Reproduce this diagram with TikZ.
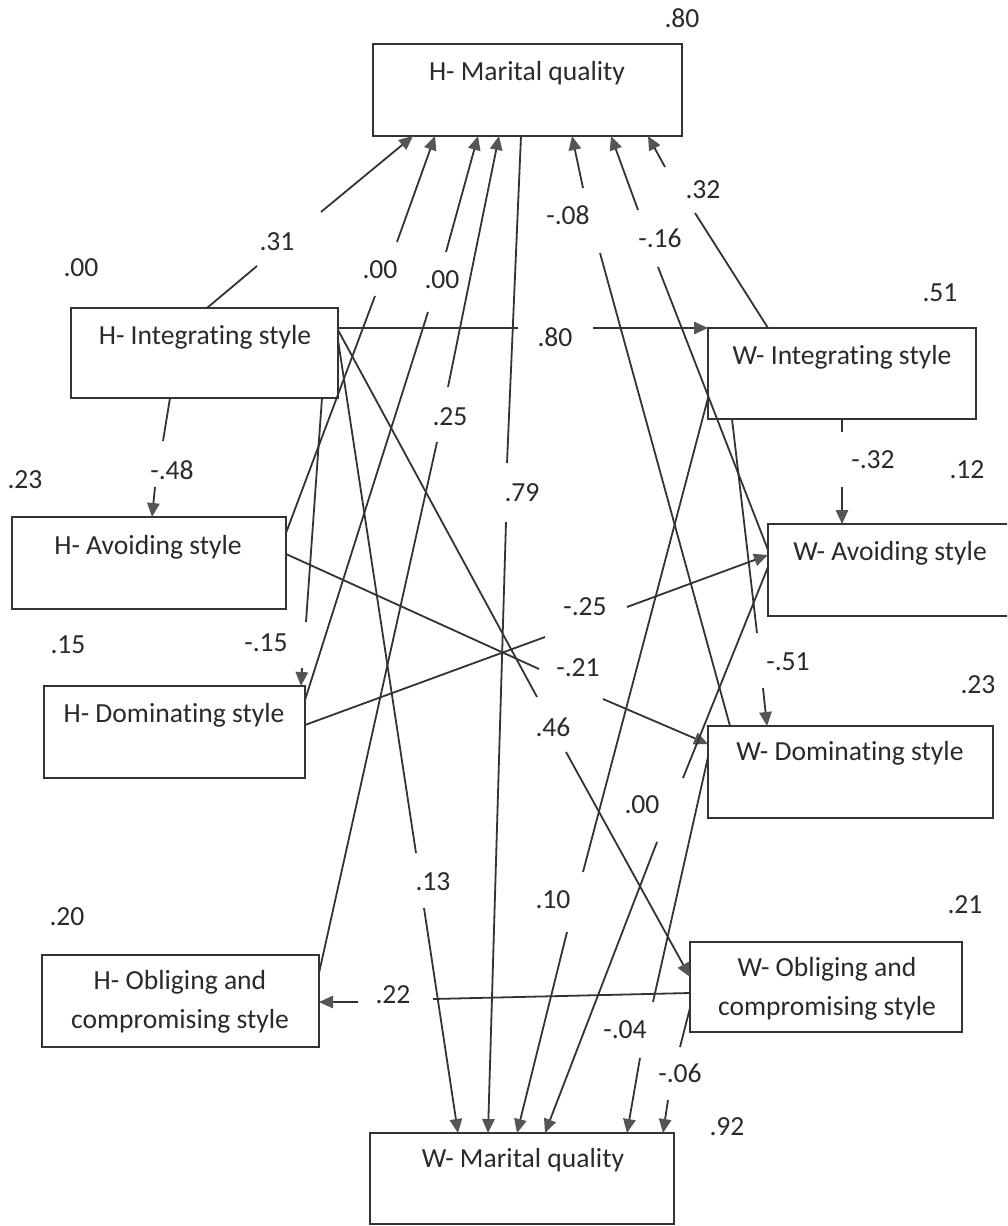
\documentclass[tikz,border=0pt]{standalone}
\usepackage{fontspec}
\setmainfont{Carlito}[Ligatures={CommonOff,ContextualOff,RareOff},Contextuals=AlternateOff]
\usetikzlibrary{arrows.meta}
\definecolor{ink}{HTML}{2A2A2A}
\definecolor{wire}{HTML}{333333}
\definecolor{tipgray}{HTML}{555555}

\begin{document}
\begin{tikzpicture}[x=0.5pt,y=-0.5pt,
  box/.style={draw=wire, line width=1.1pt, inner sep=0pt, outer sep=0pt},
  boxtext/.style={text=ink, font=\fontsize{13.8pt}{19.5pt}\selectfont, align=center, inner sep=0pt},
  coef/.style={text=ink, font=\fontsize{13.8pt}{16pt}\selectfont, inner sep=0pt},
  link/.style={draw=wire, line width=0.9pt},
  arrowlink/.style={link, -{Triangle[length=7pt,width=6.2pt,color=tipgray]}},
]
\path[use as bounding box] (0,0) rectangle (1007,1226);
\clip (0,0) rectangle (1007,1226);
\fill[white] (0,0) rectangle (1007,1226);

% ---------- variables ----------
\node[box, minimum width=154.5pt, minimum height=46pt]   (HMQ) at (527.5,90)   {};
\node[box, minimum width=133.5pt, minimum height=45pt]   (HI)  at (204.5,353)  {};
\node[box, minimum width=137pt,   minimum height=46pt]   (HA)  at (149,563)    {};
\node[box, minimum width=130.5pt, minimum height=46pt]   (HD)  at (174.5,732)  {};
\node[box, minimum width=138.5pt, minimum height=46pt]   (HO)  at (180.5,1001) {};
\node[box, minimum width=152pt,   minimum height=45.5pt] (WMQ) at (522,1178.5) {};
\node[box, minimum width=134pt,   minimum height=45.5pt] (WI)  at (842,373.5)  {};
\node[box, minimum width=122pt,   minimum height=46pt]   (WA)  at (890,570)    {};
\node[box, minimum width=142.5pt, minimum height=46pt]   (WD)  at (850.5,772)  {};
\node[box, minimum width=136pt,   minimum height=45pt]   (WO)  at (826,987)    {};

\node[boxtext] (HMQ-t) at (527,73)    {H- Marital quality};
\node[boxtext] (HI-t)  at (205,337)   {H- Integrating style};
\node[boxtext] (HA-t)  at (148,547)   {H- Avoiding style};
\node[boxtext] (HD-t)  at (174,715)   {H- Dominating style};
\node[boxtext] (HO-t)  at (180,1002)  {H- Obliging and\\compromising style};
\node[boxtext] (WMQ-t) at (523,1160)  {W- Marital quality};
\node[boxtext] (WI-t)  at (842,357)   {W- Integrating style};
\node[boxtext] (WA-t)  at (890,553)   {W- Avoiding style};
\node[boxtext] (WD-t)  at (850,753)   {W- Dominating style};
\node[boxtext] (WO-t)  at (827,988.5) {W- Obliging and\\compromising style};

% ---------- explained variance ----------
\node[coef] (r-hmq) at (682,18)   {.80};
\node[coef] (r-hi)  at (81,268)   {.00};
\node[coef] (r-wi)  at (940,293)  {.51};
\node[coef] (r-ha)  at (25,480)   {.23};
\node[coef] (r-wa)  at (967,470)  {.12};
\node[coef] (r-hd)  at (68,645)   {.15};
\node[coef] (r-wd)  at (978,685)  {.23};
\node[coef] (r-ho)  at (67,917)   {.20};
\node[coef] (r-wo)  at (965,905)  {.21};
\node[coef] (r-wmq) at (727,1127) {.92};

% ---------- break points of the paths around their coefficients ----------
\coordinate (g1a)  at (257,266);  \coordinate (g1b)  at (321,212);
\coordinate (g2a)  at (518,328);  \coordinate (g2b)  at (593,328);
\coordinate (g3a)  at (163,441);  \coordinate (g3b)  at (155,487);
\coordinate (g4a)  at (306,622);  \coordinate (g4b)  at (302,668);
\coordinate (g5a)  at (416,853);  \coordinate (g5b)  at (424,908);
\coordinate (g6a)  at (537,697);  \coordinate (g6b)  at (566,752);
\coordinate (g7a)  at (375,296);  \coordinate (g7b)  at (397,242);
\coordinate (g8a)  at (428,312);  \coordinate (g8b)  at (446,252);
\coordinate (g9a)  at (437,442);  \coordinate (g9b)  at (448,387);
\coordinate (g10a) at (507,463);  \coordinate (g10b) at (506,522);
\coordinate (g11a) at (539,669);  \coordinate (g11b) at (603,699);
\coordinate (g12a) at (545,637);  \coordinate (g12b) at (627,607);
\coordinate (g13a) at (600,253);  \coordinate (g13b) at (583,188);
\coordinate (g14a) at (658,267);  \coordinate (g14b) at (638,210);
\coordinate (g15a) at (695,213);  \coordinate (g15b) at (665,167);
\coordinate (g16a) at (842,432);  \coordinate (g16b) at (842,487);
\coordinate (g17a) at (757,633);  \coordinate (g17b) at (763,688);
\coordinate (g18a) at (583,872);  \coordinate (g18b) at (567,932);
\coordinate (g19a) at (683,778);  \coordinate (g19b) at (657,842);
\coordinate (g20a) at (653,1002); \coordinate (g20b) at (640,1058);
\coordinate (g21a) at (680,1047); \coordinate (g21b) at (668,1100);
\coordinate (g22a) at (433,999);  \coordinate (g22b) at (358,1002);

% ---------- paths ----------
% husband styles -> husband marital quality
\draw[arrowlink] (207,0 |- HI.north) -- (g1a) (g1b) -- (413,0 |- HMQ.south);
\node[coef] (c1) at (277,242) {.31};
\draw[arrowlink] (HA.east |- 0,533) -- (g7a) (g7b) -- (435,0 |- HMQ.south);
\node[coef] (c7) at (380,270) {.00};
\draw[arrowlink] (HD.east |- 0,700) -- (g8a) (g8b) -- (478,0 |- HMQ.south);
\node[coef] (c8) at (442,280) {.00};
\draw[arrowlink] (HO.east |- 0,973) -- (g9a) (g9b) -- (499,0 |- HMQ.south);
\node[coef] (c9) at (450,417) {.25};

% wife styles -> husband marital quality
\draw[arrowlink] (730,0 |- WD.north) -- (g13a) (g13b) -- (572,0 |- HMQ.south);
\node[coef] (c13) at (568,215) {-.08};
\draw[arrowlink] (WA.west |- 0,550) -- (g14a) (g14b) -- (611,0 |- HMQ.south);
\node[coef] (c14) at (660,238) {-.16};
\draw[arrowlink] (768,0 |- WI.north) -- (g15a) (g15b) -- (648,0 |- HMQ.south);
\node[coef] (c15) at (703,190) {.32};

% husband integrating style -> other styles
\draw[arrowlink] (HI.east |- 0,328) -- (g2a) (g2b) -- (WI.north west);
\node[coef] (c2) at (555,337) {.80};
\draw[arrowlink] (170,0 |- HI.south) -- (g3a) (g3b) -- (152,0 |- HA.north);
\node[coef] (c3) at (172,470) {-.48};
\draw[arrowlink] (322,0 |- HI.south) -- (g4a) (g4b) -- (301,0 |- HD.north);
\node[coef] (c4) at (266,643) {-.15};
\draw[arrowlink] (HI.east |- 0,330) -- (g6a) (g6b) -- (WO.west |- 0,977);
\node[coef] (c6) at (553,727) {.46};

% wife integrating style -> wife styles
\draw[arrowlink] (842,0 |- WI.south) -- (g16a) (g16b) -- (842,0 |- WA.north);
\node[coef] (c16) at (873,460) {-.32};
\draw[arrowlink] (732,0 |- WI.south) -- (g17a) (g17b) -- (767,0 |- WD.north);
\node[coef] (c17) at (788,662) {-.51};

% cross-partner paths
\draw[arrowlink] (HA.east |- 0,554) -- (g11a) (g11b) -- (WD.west |- 0,744);
\node[coef] (c11) at (578,668) {-.21};
\draw[arrowlink] (HD.east |- 0,725) -- (g12a) (g12b) -- (WA.west |- 0,555);
\node[coef] (c12) at (585,607) {-.25};
\draw[arrowlink] (WO.west |- 0,993) -- (g22a) (g22b) -- (HO.east |- 0,1002);
\node[coef] (c22) at (393,995) {.22};

% paths into wife marital quality
\draw[arrowlink] (HI.east |- 0,340) -- (g5a) (g5b) -- (458,0 |- WMQ.north);
\node[coef] (c5) at (433,882) {.13};
\draw[arrowlink] (521,0 |- HMQ.south) -- (g10a) (g10b) -- (488,0 |- WMQ.north);
\node[coef] (c10) at (522,493) {.79};
\draw[arrowlink] (WI.west |- 0,398) -- (g18a) (g18b) -- (517,0 |- WMQ.north);
\node[coef] (c18) at (553,900) {.10};
\draw[arrowlink] (WA.west |- 0,567) -- (g19a) (g19b) -- (545,0 |- WMQ.north);
\node[coef] (c19) at (642,805) {.00};
\draw[arrowlink] (WD.west |- 0,757) -- (g20a) (g20b) -- (627,0 |- WMQ.north);
\node[coef] (c20) at (625,1030) {-.04};
\draw[arrowlink] (WO.west |- 0,1008) -- (g21a) (g21b) -- (663,0 |- WMQ.north);
\node[coef] (c21) at (680,1073) {-.06};

\end{tikzpicture}
\end{document}
